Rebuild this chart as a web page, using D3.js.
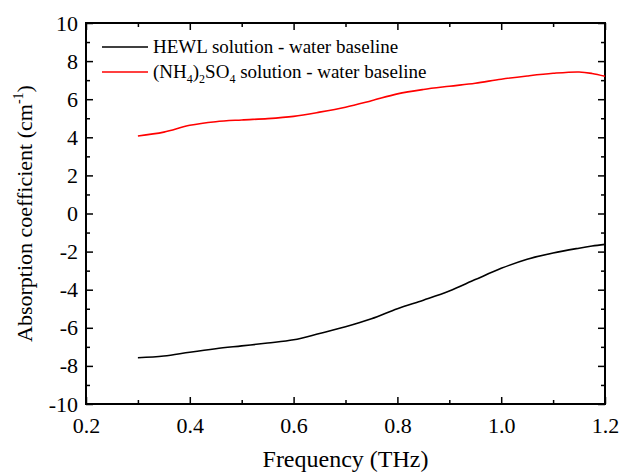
<!DOCTYPE html>
<html>
<head>
<meta charset="utf-8">
<script src="https://cdn.jsdelivr.net/npm/d3@7"></script>
<style>
  body { margin: 0; background: #fff; }
  #vis { width: 619px; height: 472px; }
</style>
</head>
<body>
<div id="vis"></div>
<script>
// data
var frequency = [0.30, 0.35, 0.40, 0.45, 0.50, 0.55, 0.60, 0.65, 0.70, 0.75, 0.80, 0.85, 0.90, 0.95, 1.00, 1.05, 1.10, 1.15, 1.175, 1.20];
var hewl = [-7.57, -7.48, -7.28, -7.10, -6.95, -6.80, -6.63, -6.30, -5.95, -5.53, -5.00, -4.55, -4.07, -3.47, -2.88, -2.40, -2.07, -1.82, -1.71, -1.62];
var ammonium = [4.07, 4.27, 4.63, 4.82, 4.91, 4.98, 5.10, 5.32, 5.58, 5.92, 6.28, 6.51, 6.68, 6.84, 7.05, 7.22, 7.36, 7.43, 7.35, 7.20];
var x_ticks = [0.2, 0.4, 0.6, 0.8, 1.0, 1.2];
var y_ticks = [-10, -8, -6, -4, -2, 0, 2, 4, 6, 8, 10];
var x_minor = [0.3, 0.5, 0.7, 0.9, 1.1];
var y_minor = [-9, -7, -5, -3, -1, 1, 3, 5, 7, 9];

var FONT = 'Times New Roman, Liberation Serif, serif';

var width = 619, height = 472;
var margin = { top: 23, bottom: 68, left: 86, right: 14 };

var svg = d3.select('#vis')
    .append('svg')
    .attr('width', width)
    .attr('height', height);

var w = width - margin.left - margin.right;
var h = height - margin.top - margin.bottom;

var g = svg.append('g')
    .attr('transform', 'translate(' + margin.left + ',' + margin.top + ')');

var x_scale = d3.scaleLinear().domain([0.2, 1.2]).range([0, w]);
var y_scale = d3.scaleLinear().domain([-10, 10]).range([h, 0]);

function styleAxis(sel) {
    sel.attr('font-family', FONT);
    sel.select('.domain').remove();
    sel.selectAll('.tick line').attr('stroke', '#000').attr('stroke-width', 1.5);
}

// major + minor ticks, inward, on all four sides
g.append('g').attr('transform', 'translate(0,' + h + ')')
    .call(d3.axisBottom(x_scale).tickValues(x_ticks).tickSizeInner(-7).tickSizeOuter(0).tickPadding(13)
        .tickFormat(d3.format('.1f')))
    .call(styleAxis)
    .selectAll('text').style('font-size', '22px').attr('fill', '#000');
g.append('g').attr('transform', 'translate(0,' + h + ')')
    .call(d3.axisBottom(x_scale).tickValues(x_minor).tickSize(-4).tickFormat(''))
    .call(styleAxis);
g.append('g')
    .call(d3.axisTop(x_scale).tickValues(x_ticks).tickSize(-7).tickFormat(''))
    .call(styleAxis);
g.append('g')
    .call(d3.axisTop(x_scale).tickValues(x_minor).tickSize(-4).tickFormat(''))
    .call(styleAxis);

g.append('g')
    .call(d3.axisLeft(y_scale).tickValues(y_ticks).tickSize(-7)
        .tickFormat(function(d) { return String(d); }))
    .call(styleAxis)
    .selectAll('text').style('font-size', '22px').attr('fill', '#000').attr('x', -8);
g.append('g')
    .call(d3.axisLeft(y_scale).tickValues(y_minor).tickSize(-4).tickFormat(''))
    .call(styleAxis);
g.append('g').attr('transform', 'translate(' + w + ',0)')
    .call(d3.axisRight(y_scale).tickValues(y_ticks).tickSize(-7).tickFormat(''))
    .call(styleAxis);
g.append('g').attr('transform', 'translate(' + w + ',0)')
    .call(d3.axisRight(y_scale).tickValues(y_minor).tickSize(-4).tickFormat(''))
    .call(styleAxis);

// frame
g.append('rect')
    .attr('width', w)
    .attr('height', h)
    .attr('fill', 'none')
    .attr('stroke', '#000')
    .attr('stroke-width', 2);

// curves
var line = d3.line()
    .x(function(d, i) { return x_scale(frequency[i]); })
    .y(function(d) { return y_scale(d); })
    .curve(d3.curveCatmullRom.alpha(0.5));

g.append('path').datum(hewl)
    .attr('d', line)
    .attr('fill', 'none')
    .attr('stroke', '#000')
    .attr('stroke-width', 1.6);

g.append('path').datum(ammonium)
    .attr('d', line)
    .attr('fill', 'none')
    .attr('stroke', '#ff0000')
    .attr('stroke-width', 1.6);

// legend
var legend = g.append('g').attr('transform', 'translate(16,24)').attr('font-family', FONT);
legend.append('line').attr('x1', 0).attr('x2', 46).attr('y1', 0).attr('y2', 0)
    .attr('stroke', '#000').attr('stroke-width', 1.6);
legend.append('text').attr('x', 51).attr('y', 6)
    .attr('font-family', FONT).attr('font-size', 19)
    .text('HEWL solution - water baseline');
legend.append('line').attr('x1', 0).attr('x2', 46).attr('y1', 25).attr('y2', 25)
    .attr('stroke', '#ff0000').attr('stroke-width', 1.6);
var t2 = legend.append('text').attr('x', 51).attr('y', 31)
    .attr('font-family', FONT).attr('font-size', 19);
t2.append('tspan').text('(NH');
t2.append('tspan').attr('dy', 5).attr('font-size', 12).text('4');
t2.append('tspan').attr('dy', -5).text(')');
t2.append('tspan').attr('dy', 5).attr('font-size', 12).text('2');
t2.append('tspan').attr('dy', -5).text('SO');
t2.append('tspan').attr('dy', 5).attr('font-size', 12).text('4');
t2.append('tspan').attr('dy', -5).text(' solution - water baseline');

// axis titles
svg.append('text')
    .attr('x', margin.left + w / 2)
    .attr('y', 467)
    .attr('text-anchor', 'middle')
    .attr('font-family', FONT).attr('font-size', 24)
    .text('Frequency (THz)');

var yt = svg.append('text')
    .attr('transform', 'translate(32,' + (margin.top + h / 2) + ') rotate(-90)')
    .attr('text-anchor', 'middle')
    .attr('font-family', FONT).attr('font-size', 22);
yt.append('tspan').text('Absorption coefficient (cm');
yt.append('tspan').attr('dy', -9).attr('font-size', 14).text('-1');
yt.append('tspan').attr('dy', 9).text(')');
</script>
</body>
</html>
